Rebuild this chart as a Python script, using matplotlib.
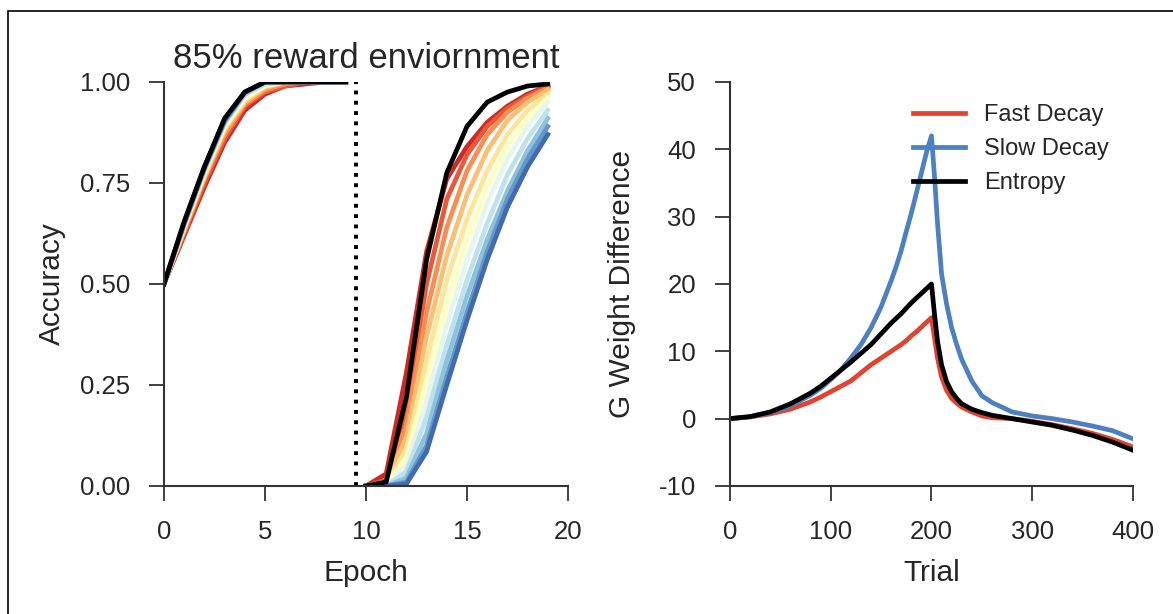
import matplotlib
matplotlib.use('Agg')
import matplotlib.pyplot as plt
import numpy as np

plt.rcParams['font.family'] = ['Liberation Sans', 'DejaVu Sans']
plt.rcParams['text.color'] = '#262626'
plt.rcParams['axes.labelcolor'] = '#262626'
plt.rcParams['xtick.color'] = '#262626'
plt.rcParams['ytick.color'] = '#262626'
plt.rcParams['axes.unicode_minus'] = False

# left panel: accuracy per epoch, 11 runs (red -> blue) plus entropy (black)
epochs_a = [0, 1, 2, 3, 4, 5, 6, 7, 8, 9]
epochs_b = [10, 11, 12, 13, 14, 15, 16, 17, 18, 19]

acc_a = [
    [0.5, 0.620, 0.740, 0.850, 0.930, 0.970, 0.990, 0.995, 1.0, 1.0],
    [0.5, 0.625, 0.750, 0.860, 0.940, 0.975, 0.990, 1.0, 1.0, 1.0],
    [0.5, 0.630, 0.760, 0.870, 0.945, 0.980, 0.995, 1.0, 1.0, 1.0],
    [0.5, 0.635, 0.765, 0.880, 0.950, 0.985, 1.0, 1.0, 1.0, 1.0],
    [0.5, 0.640, 0.770, 0.885, 0.955, 0.990, 1.0, 1.0, 1.0, 1.0],
    [0.5, 0.640, 0.775, 0.890, 0.960, 0.990, 1.0, 1.0, 1.0, 1.0],
    [0.5, 0.645, 0.780, 0.895, 0.965, 0.995, 1.0, 1.0, 1.0, 1.0],
    [0.5, 0.645, 0.780, 0.900, 0.970, 0.995, 1.0, 1.0, 1.0, 1.0],
    [0.5, 0.650, 0.785, 0.900, 0.970, 1.0, 1.0, 1.0, 1.0, 1.0],
    [0.5, 0.650, 0.785, 0.905, 0.975, 1.0, 1.0, 1.0, 1.0, 1.0],
    [0.5, 0.650, 0.790, 0.905, 0.975, 1.0, 1.0, 1.0, 1.0, 1.0],
]
acc_b = [
    [0.0, 0.030, 0.280, 0.580, 0.760, 0.840, 0.900, 0.940, 0.970, 0.990],
    [0.0, 0.015, 0.190, 0.500, 0.710, 0.820, 0.890, 0.935, 0.965, 0.990],
    [0.0, 0.010, 0.150, 0.430, 0.640, 0.780, 0.870, 0.925, 0.960, 0.985],
    [0.0, 0.010, 0.120, 0.370, 0.570, 0.720, 0.830, 0.905, 0.950, 0.980],
    [0.0, 0.005, 0.090, 0.310, 0.510, 0.660, 0.780, 0.870, 0.930, 0.970],
    [0.0, 0.005, 0.070, 0.260, 0.450, 0.610, 0.740, 0.840, 0.910, 0.960],
    [0.0, 0.0, 0.050, 0.210, 0.400, 0.560, 0.700, 0.810, 0.890, 0.950],
    [0.0, 0.0, 0.035, 0.170, 0.350, 0.510, 0.650, 0.770, 0.860, 0.930],
    [0.0, 0.0, 0.020, 0.130, 0.310, 0.470, 0.610, 0.730, 0.830, 0.910],
    [0.0, 0.0, 0.010, 0.100, 0.270, 0.430, 0.580, 0.710, 0.810, 0.890],
    [0.0, 0.0, 0.005, 0.085, 0.250, 0.410, 0.560, 0.690, 0.790, 0.870],
]
entropy_a = [0.5, 0.655, 0.790, 0.910, 0.975, 1.0, 1.0, 1.0, 1.0, 1.0]
entropy_b = [0.0, 0.010, 0.220, 0.560, 0.775, 0.890, 0.950, 0.975, 0.990, 0.995]
switch_epoch = 9.5

# right panel: G weight difference per trial
trial = [0, 20, 40, 60, 80, 90, 100, 110, 120, 130, 140, 150, 160, 165, 170,
         175, 180, 185, 190, 195, 200, 203, 206, 210, 215, 220, 225, 230, 240,
         250, 260, 280, 300, 320, 340, 360, 380, 400]
fast = [0, 0.25, 0.7, 1.4, 2.5, 3.2, 4.0, 4.8, 5.6, 6.8, 8.0, 9.0, 10.0, 10.5, 11.0,
        11.6, 12.3, 12.9, 13.6, 14.3, 15.0, 12.0, 9.0, 6.2, 4.2, 3.0, 2.3, 1.7, 1.0,
        0.4, 0.15, 0.0, -0.4, -0.9, -1.5, -2.2, -3.1, -4.2]
slow = [0, 0.3, 0.9, 1.9, 3.5, 4.5, 5.8, 7.2, 9.0, 11.0, 13.5, 16.6, 20.5, 22.6, 25.0,
        27.8, 30.5, 33.5, 36.5, 39.5, 42.0, 36.0, 29.0, 21.5, 17.0, 13.5, 11.0, 8.8, 5.6,
        3.4, 2.4, 1.0, 0.4, 0.0, -0.5, -1.1, -1.8, -3.0]
entropy = [0, 0.3, 1.0, 2.2, 3.8, 4.8, 6.0, 7.2, 8.4, 9.7, 11.0, 12.6, 14.2, 14.9, 15.6,
           16.4, 17.2, 17.9, 18.6, 19.3, 20.0, 15.5, 11.5, 8.0, 5.5, 4.0, 3.0, 2.2, 1.4,
           0.9, 0.5, 0.0, -0.5, -1.0, -1.7, -2.5, -3.5, -4.7]

colors = plt.cm.RdYlBu(np.linspace(0, 1, len(acc_a) + 2)[1:-1])

fig = plt.figure(figsize=(11.73, 6.14), dpi=100)
ax1 = fig.add_axes([0.1398, 0.2085, 0.3444, 0.658])
ax2 = fig.add_axes([0.6223, 0.2085, 0.3436, 0.658])

for i in range(len(acc_a)):
    ax1.plot(epochs_a, acc_a[i], color=colors[i], lw=3.4)
    ax1.plot(epochs_b, acc_b[i], color=colors[i], lw=3.4)
ax1.plot(epochs_a, entropy_a, color='k', lw=3.4)
ax1.plot(epochs_b, entropy_b, color='k', lw=3.4)
ax1.axvline(switch_epoch, color='k', ls=':', lw=2.8)
ax1.set_xlim(0, 20)
ax1.set_ylim(0, 1)
ax1.set_xticks([0, 5, 10, 15, 20])
ax1.set_yticks([0, 0.25, 0.5, 0.75, 1.0])
ax1.set_yticklabels(['0.00', '0.25', '0.50', '0.75', '1.00'])
ax1.set_xlabel('Epoch', fontsize=21.5, labelpad=11)
ax1.set_ylabel('Accuracy', fontsize=21.5, labelpad=10)
ax1.set_title('85% reward enviornment', fontsize=25, pad=10)

ax2.plot(trial, fast, color='#e2432f', lw=3.4, label='Fast Decay')
ax2.plot(trial, slow, color='#4c80c0', lw=3.4, label='Slow Decay')
ax2.plot(trial, entropy, color='k', lw=3.4, label='Entropy')
ax2.set_xlim(0, 400)
ax2.set_ylim(-10, 50)
ax2.set_xticks([0, 100, 200, 300, 400])
ax2.set_yticks([-10, 0, 10, 20, 30, 40, 50])
ax2.set_xlabel('Trial', fontsize=21.5, labelpad=11)
ax2.set_ylabel('G Weight Difference', fontsize=21.5, labelpad=16)
ax2.legend(loc='upper left', bbox_to_anchor=(0.455, 0.945), frameon=False,
           fontsize=17, handlelength=2.2, handletextpad=0.8, labelspacing=0.5,
           borderpad=0, borderaxespad=0)

for ax in (ax1, ax2):
    for s in ('top', 'right'):
        ax.spines[s].set_visible(False)
    for s in ('left', 'bottom'):
        ax.spines[s].set_color('#333333')
        ax.spines[s].set_linewidth(1.5)
    ax.tick_params(direction='out', length=10.5, width=1.3, pad=14,
                   labelsize=18.5, color='#333333')

# frame around the figure (cut off at the right and bottom)
frame = plt.Rectangle((8 / 1173, -0.2), 1.3, 0.2 + 1 - 11 / 614,
                      transform=fig.transFigure, fill=False, lw=1.2,
                      edgecolor='k')
fig.patches.append(frame)

fig.savefig('out.png', dpi=100)
